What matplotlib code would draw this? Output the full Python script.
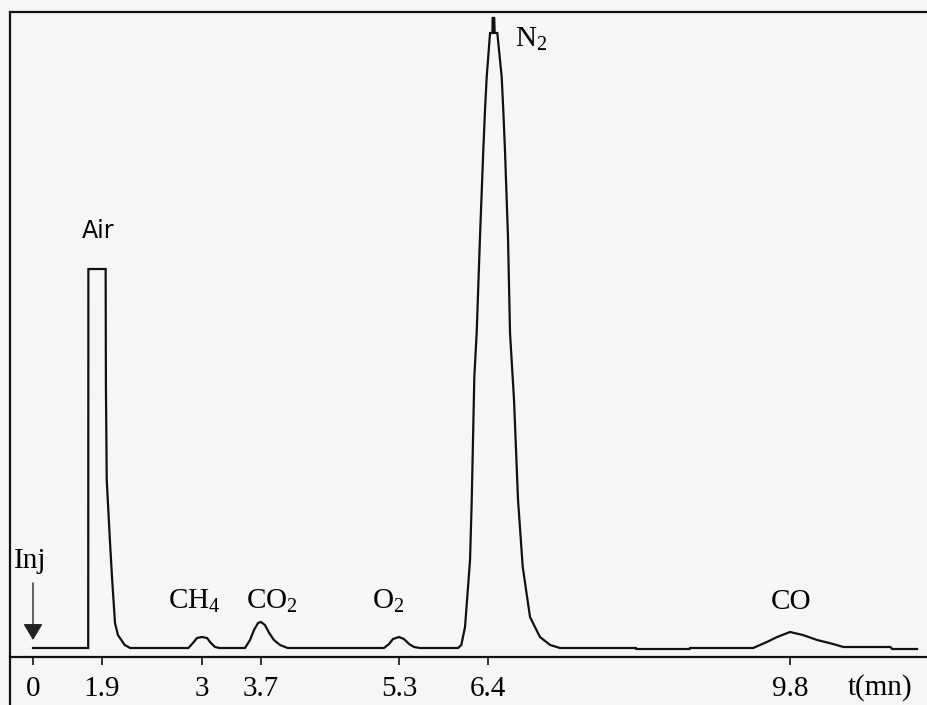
import numpy as np
import matplotlib
matplotlib.use('Agg')
import matplotlib.pyplot as plt

# Chromatogramme : temps (mn) et signal (unités arbitraires, ligne de base = 0)
t_trace = [0.0,
           1.52, 1.525, 1.94, 1.943, 1.952, 1.988, 2.010, 2.043, 2.075, 2.15, 2.21,
           2.85, 2.90, 2.945, 3.0, 3.06, 3.105, 3.155, 3.21,
           3.51, 3.57, 3.617, 3.665, 3.70, 3.745, 3.795, 3.85, 3.92, 4.01,
           5.125, 5.185, 5.23, 5.30, 5.36, 5.425, 5.485, 5.56,
           6.03, 6.07, 6.116, 6.178, 6.199, 6.231, 6.26, 6.301, 6.342, 6.363, 6.384,
           6.423, 6.45, 6.452, 6.47, 6.475, 6.505, 6.554, 6.572, 6.591, 6.625, 6.648,
           6.693, 6.738, 6.791, 6.873, 6.985, 7.10, 7.21,
           8.065, 8.07, 8.67, 8.675,
           9.385, 9.54, 9.655, 9.8, 9.945, 10.105, 10.285, 10.40, 10.93, 10.95, 11.23]
s_trace = [0,
           0, 379, 379, 263, 168, 106, 71, 25, 13, 3, 0,
           0, 5, 10, 11, 10, 5, 1, 0,
           0, 8, 18, 25, 26, 23, 15, 8, 3, 0,
           0, 4, 9, 11, 9, 4, 1, 0,
           0, 3, 21, 88, 148, 271, 315, 411, 498, 538, 571,
           615, 615, 630, 630, 615, 615, 571, 538, 498, 411, 315,
           248, 148, 81, 31, 11, 3, 0,
           0, -1, -1, 0,
           0, 6, 11, 16, 13, 8, 4, 1, 1, -1, -1]

tick_vals = [0, 1.9, 3, 3.7, 5.3, 6.4, 9.8]
tick_labels = ['0', '1.9', '3', '3.7', '5.3', '6.4', '9.8']

# axe des temps non linéaire (comme sur l'original)
knot_t = [-0.633, 0, 1.9, 3, 3.7, 5.3, 6.4, 9.8, 11.353]
knot_p = [10, 33, 102, 202, 261, 399, 488, 790, 928]


def fwd(t):
    return np.interp(t, knot_t, knot_p)


def inv(p):
    return np.interp(p, knot_p, knot_t)


plt.rcParams['font.family'] = ['Liberation Serif', 'DejaVu Serif']
plt.rcParams['mathtext.default'] = 'regular'

fond = '#f6f6f4'
fig = plt.figure(figsize=(9.28, 7.05), dpi=100, facecolor=fond)
ax = fig.add_axes([10 / 928, 0, 918 / 928, 693 / 705], facecolor=fond)
ax.set_xscale('function', functions=(fwd, inv))

ax.plot(t_trace, s_trace, color='#111111', lw=1.6, solid_joinstyle='miter')

ax.set_xlim(-0.633, 11.353)
ax.set_ylim(-57, 636)

ax.spines['right'].set_visible(False)
ax.spines['bottom'].set_position(('data', -9))
for cote in ['left', 'top', 'bottom']:
    ax.spines[cote].set_linewidth(1.6)
    ax.spines[cote].set_color('#111111')

ax.set_yticks([])
ax.set_xticks(tick_vals)
ax.set_xticklabels(tick_labels)
ax.xaxis.set_minor_locator(plt.NullLocator())
ax.tick_params(axis='x', direction='out', length=6, width=1.2, pad=8,
               labelsize=21, color='#111111')

# étiquettes des pics
ax.text(1.79, 410, 'Air', ha='center', va='baseline', fontsize=17,
        family=['DejaVu Sans'])
ax.text(6.704, 601, 'N$_2$', ha='left', va='baseline', fontsize=21)
ax.text(2.91, 39, 'CH$_4$', ha='center', va='baseline', fontsize=21)
ax.text(3.83, 39, 'CO$_2$', ha='center', va='baseline', fontsize=21)
ax.text(5.17, 39, 'O$_2$', ha='center', va='baseline', fontsize=21)
ax.text(9.81, 39, 'CO', ha='center', va='baseline', fontsize=21)
ax.text(10.81, -47, 't(mn)', ha='center', va='baseline', fontsize=21)

# injection
ax.text(-0.523, 80, 'Inj', ha='left', va='baseline', fontsize=21)
ax.annotate('', xy=(0, 8), xytext=(0, 65),
            arrowprops=dict(arrowstyle='-|>,head_length=0.5,head_width=0.3',
                            color='#222222', lw=1.0, mutation_scale=20,
                            shrinkA=0, shrinkB=0))

fig.savefig('out.png', dpi=100, facecolor=fond)
